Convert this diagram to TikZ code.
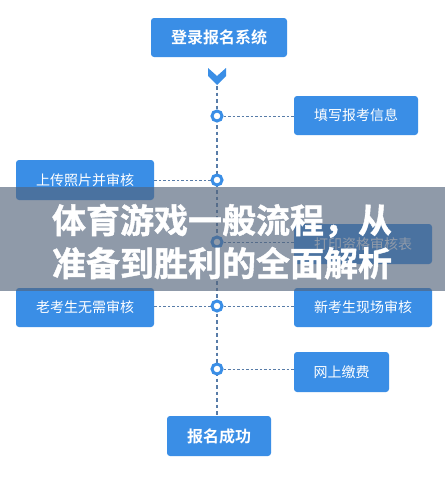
\documentclass[tikz,border=0pt]{standalone}
\usepackage{fontspec}
\setmainfont{Noto Sans CJK SC}
\newfontfamily\cjkb{Noto Sans CJK SC Bold}
\newfontfamily\cjkh[FakeBold=1.2]{Noto Sans CJK SC Bold}
\usetikzlibrary{positioning}
\definecolor{boxblue}{RGB}{58,142,230}
\definecolor{linegray}{RGB}{88,124,168}
\definecolor{veil}{RGB}{84,100,123}
\tikzset{
  stepbox/.style={fill=boxblue, rounded corners=3pt, text=white, inner sep=0pt, anchor=center, font=\fontsize{14}{14}\selectfont},
  mainbox/.style={stepbox, font=\cjkb\fontsize{16}{16}\selectfont},
  ring/.style={circle, draw=boxblue, line width=3pt, fill=white, minimum size=10pt, inner sep=0pt},
  vline/.style={draw=linegray, line width=1.4pt, dash pattern=on 3.5pt off 3pt},
  hline/.style={draw=linegray, line width=0.9pt, dash pattern=on 2.5pt off 2pt}
}
\begin{document}
\begin{tikzpicture}[x=1pt,y=-1pt]
\useasboundingbox (0,0) rectangle (445,479);
\fill[white] (0,0) rectangle (445,479);
% vertical line
\coordinate (vtop) at (217,86);
\coordinate (vbot) at (217,415);
\draw[vline] (vtop) -- (vbot);
% boxes
\node[mainbox, minimum width=136pt, minimum height=39pt] (b0) at (219,37.5) {登录报名系统};
\node[stepbox, minimum width=124pt, minimum height=39pt] (b1) at (356,115.5) {填写报考信息};
\node[stepbox, minimum width=138pt, minimum height=40pt] (b2) at (85,180) {上传照片并审核};
\node[stepbox, minimum width=138pt, minimum height=40pt] (b3) at (363,244) {打印资格审核表};
\node[stepbox, minimum width=138pt, minimum height=39pt] (b4) at (85,307.5) {老考生无需审核};
\node[stepbox, minimum width=138pt, minimum height=39pt] (b5) at (363,307.5) {新考生现场审核};
\node[stepbox, minimum width=95pt, minimum height=40pt] (b6) at (341.5,372) {网上缴费};
\node[mainbox, minimum width=104pt, minimum height=40pt] (b7) at (219,436) {报名成功};
% chevron
\fill[boxblue] (208,68) -- (217,76) -- (226,68) -- (226,76) -- (217,85) -- (208,76) -- cycle;
% rings and connectors
\node[ring] (r1) at (217,116) {};
\node[ring] (r2) at (217,180) {};
\node[ring] (r3) at (217,242) {};
\node[ring] (r4) at (217,306) {};
\node[ring] (r5) at (217,369) {};
\draw[hline] (r1) -- (b1.west |- r1);
\draw[hline] (r2) -- (b2.east |- r2);
\draw[hline] (r3) -- (b3.west |- r3);
\draw[hline] (r4) -- (b4.east |- r4);
\draw[hline] (r4) -- (b5.west |- r4);
\draw[hline] (r5) -- (b6.west |- r5);
% veil band
\fill[veil, opacity=0.65] (0,187) rectangle (445,291);
\node[text=white, font=\cjkh\fontsize{34}{43}\selectfont, align=center, inner sep=0pt] (title) at (222,241.5) {体育游戏一般流程，从\\准备到胜利的全面解析};
\end{tikzpicture}
\end{document}
